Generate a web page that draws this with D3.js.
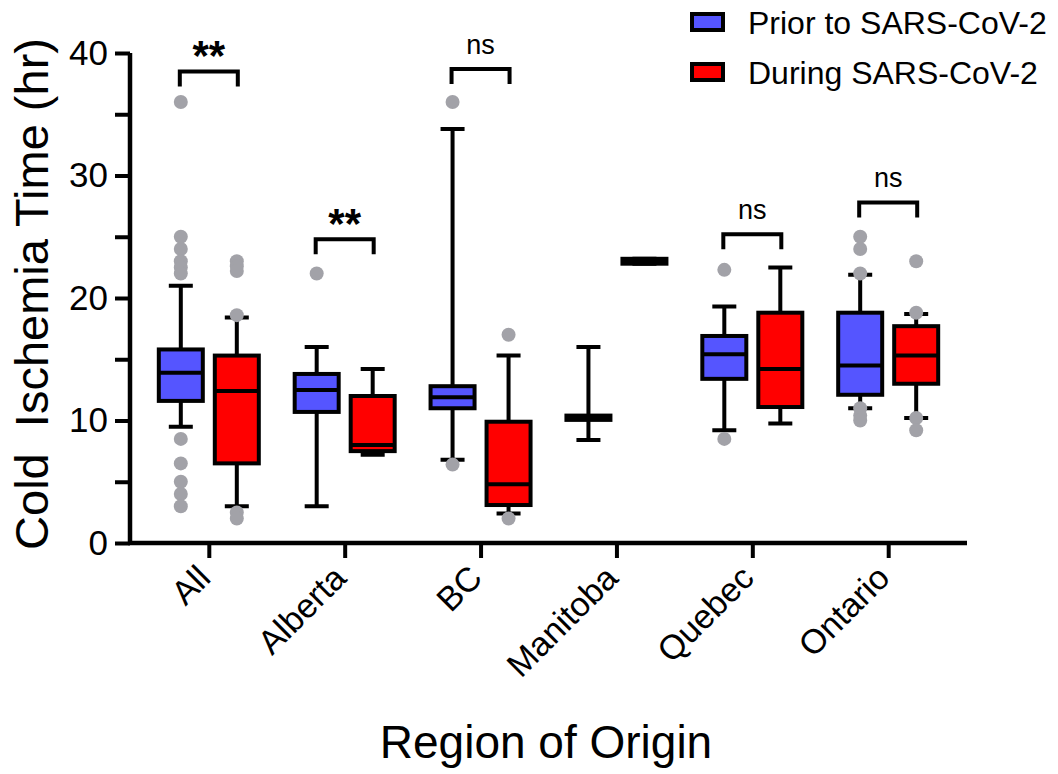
<!DOCTYPE html>
<html>
<head>
<meta charset="utf-8">
<script src="https://cdn.jsdelivr.net/npm/d3@7"></script>
<style>
  body { margin: 0; background: #fff; }
  text { font-family: "Liberation Sans", Arial, sans-serif; fill: #000; white-space: pre; }
</style>
</head>
<body>
<svg id="chart" width="1058" height="774"></svg>
<script>
// regions on the x axis
const regions = ["All", "Alberta", "BC", "Manitoba", "Quebec", "Ontario"];
const seriesNames = ["Prior to SARS-CoV-2", "During SARS-CoV-2"];

// box stats per region: [lower whisker, Q1, median, Q3, upper whisker]
const priorStats = [
    [9.5, 11.6, 13.9, 15.8, 21.0],
    [3.0, 10.7, 12.5, 13.8, 16.0],
    [6.8, 11.0, 11.9, 12.8, 33.8],
    [8.4, 10.05, 10.2, 10.4, 16.0],
    [9.2, 13.4, 15.4, 16.9, 19.3],
    [11.0, 12.1, 14.5, 18.8, 21.9]
];
const duringStats = [
    [3.0, 6.5, 12.4, 15.3, 18.4],
    [7.2, 7.5, 8.0, 12.0, 14.2],
    [2.4, 3.1, 4.8, 9.9, 15.3],
    [22.8, 22.8, 23.0, 23.2, 23.2],
    [9.75, 11.1, 14.2, 18.8, 22.5],
    [10.2, 13.0, 15.3, 17.7, 18.7]
];

// points outside the whiskers
const priorOutliers = [
    [36, 25, 24, 23, 22.5, 22, 8.5, 6.5, 5, 4, 3],
    [22],
    [36, 6.4],
    [],
    [22.3, 8.5],
    [25, 24, 22, 11, 10.4, 10]
];
const duringOutliers = [
    [23, 22.6, 22.2, 18.6, 2.5, 2],
    [],
    [17, 2],
    [],
    [],
    [23, 18.8, 10.2, 9.2]
];

// significance brackets
const sigLabels = ["**", "**", "ns", null, "ns", "ns"];
const sigLevels = [38.5, 24.8, 38.7, null, 25.2, 27.8];

const yTicks = [0, 5, 10, 15, 20, 25, 30, 35, 40];

const colors = ["#5555ff", "#ff0000"];
const dotColor = "#a2a2a8";

const svg = d3.select("#chart");

const x = d3.scalePoint()
    .domain(regions)
    .range([130, 967])
    .padding(0.58);

const y = d3.scaleLinear()
    .domain([0, 40])
    .range([543, 53]);

const boxW = 44, offset = 28, capW = 24, lw = 4;

// y axis
svg.append("g")
    .attr("transform", "translate(130,0)")
    .call(d3.axisLeft(y)
        .tickValues(yTicks)
        .tickSize(15)
        .tickPadding(7)
        .tickFormat(d => d % 10 === 0 ? d : ""))
    .call(g => g.select(".domain").attr("stroke-width", 4.5).attr("d", `M0,${y(0)}V${y(40)}`))
    .call(g => g.selectAll(".tick line").attr("stroke-width", 4))
    .call(g => g.selectAll(".tick text").attr("font-size", 35));

// x axis
svg.append("g")
    .attr("transform", `translate(0,${y(0)})`)
    .call(d3.axisBottom(x).tickSize(15).tickSizeOuter(0))
    .call(g => g.select(".domain").attr("stroke-width", 4.5).attr("d", "M128,0H967"))
    .call(g => g.selectAll(".tick line").attr("stroke-width", 4))
    .call(g => g.selectAll(".tick text")
        .attr("font-size", 34)
        .attr("text-anchor", "end")
        .attr("dy", null)
        .attr("y", 0)
        .attr("transform", "translate(3,37) rotate(-45)"));

// axis titles
svg.append("text")
    .attr("transform", "translate(48,294) rotate(-90)")
    .attr("text-anchor", "middle")
    .attr("font-size", 47)
    .text("Cold  Ischemia Time (hr)");

svg.append("text")
    .attr("x", 546)
    .attr("y", 758)
    .attr("text-anchor", "middle")
    .attr("font-size", 46)
    .text("Region of Origin");

function drawSeries(stats, outliers, dx, fill) {
    const g = svg.append("g");
    const items = regions.map((r, i) => ({ r, s: stats[i], o: outliers[i] })).filter(d => d.s);
    const cx = d => x(d.r) + dx;

    // whiskers
    g.selectAll(".whisker")
        .data(items)
        .join("path")
        .attr("fill", "none")
        .attr("stroke", "#000")
        .attr("stroke-width", lw)
        .attr("d", d => `M${cx(d)},${y(d.s[0])}V${y(d.s[4])}` +
            `M${cx(d) - capW / 2},${y(d.s[0])}h${capW}` +
            `M${cx(d) - capW / 2},${y(d.s[4])}h${capW}`);

    // boxes
    g.selectAll("rect")
        .data(items)
        .join("rect")
        .attr("x", d => cx(d) - boxW / 2)
        .attr("width", boxW)
        .attr("y", d => y(d.s[3]))
        .attr("height", d => y(d.s[1]) - y(d.s[3]))
        .attr("fill", fill)
        .attr("stroke", "#000")
        .attr("stroke-width", lw);

    // medians
    g.selectAll(".median")
        .data(items)
        .join("line")
        .attr("x1", d => cx(d) - boxW / 2)
        .attr("x2", d => cx(d) + boxW / 2)
        .attr("y1", d => y(d.s[2]))
        .attr("y2", d => y(d.s[2]))
        .attr("stroke", "#000")
        .attr("stroke-width", lw);

    // outliers
    g.selectAll("circle")
        .data(items.flatMap(d => d.o.map(v => ({ r: d.r, v }))))
        .join("circle")
        .attr("cx", d => x(d.r) + dx)
        .attr("cy", d => y(d.v))
        .attr("r", 7)
        .attr("fill", dotColor);
}

drawSeries(priorStats, priorOutliers, -offset, colors[0]);
drawSeries(duringStats, duringOutliers, offset, colors[1]);

// significance brackets
const sig = regions.map((r, i) => ({ r, label: sigLabels[i], level: sigLevels[i] })).filter(d => d.label);

svg.append("g")
    .selectAll("path")
    .data(sig)
    .join("path")
    .attr("fill", "none")
    .attr("stroke", "#000")
    .attr("stroke-width", lw)
    .attr("d", d => `M${x(d.r) - 29},${y(d.level) + 15}V${y(d.level)}H${x(d.r) + 29}V${y(d.level) + 15}`);

svg.append("g")
    .selectAll("text")
    .data(sig)
    .join("text")
    .attr("x", d => x(d.r))
    .attr("y", d => y(d.level) - (d.label === "**" ? 1 : 15))
    .attr("text-anchor", "middle")
    .attr("font-size", d => d.label === "**" ? 42 : 27)
    .attr("font-weight", d => d.label === "**" ? "bold" : "normal")
    .text(d => d.label);

// legend
const legend = svg.append("g")
    .selectAll("g")
    .data(seriesNames)
    .join("g")
    .attr("transform", (d, i) => `translate(692,${14 + i * 50})`);

legend.append("rect")
    .attr("width", 31)
    .attr("height", 16)
    .attr("fill", (d, i) => colors[i])
    .attr("stroke", "#000")
    .attr("stroke-width", lw);

legend.append("text")
    .attr("x", 56)
    .attr("y", 20)
    .attr("font-size", 32)
    .text(d => d);
</script>
</body>
</html>
